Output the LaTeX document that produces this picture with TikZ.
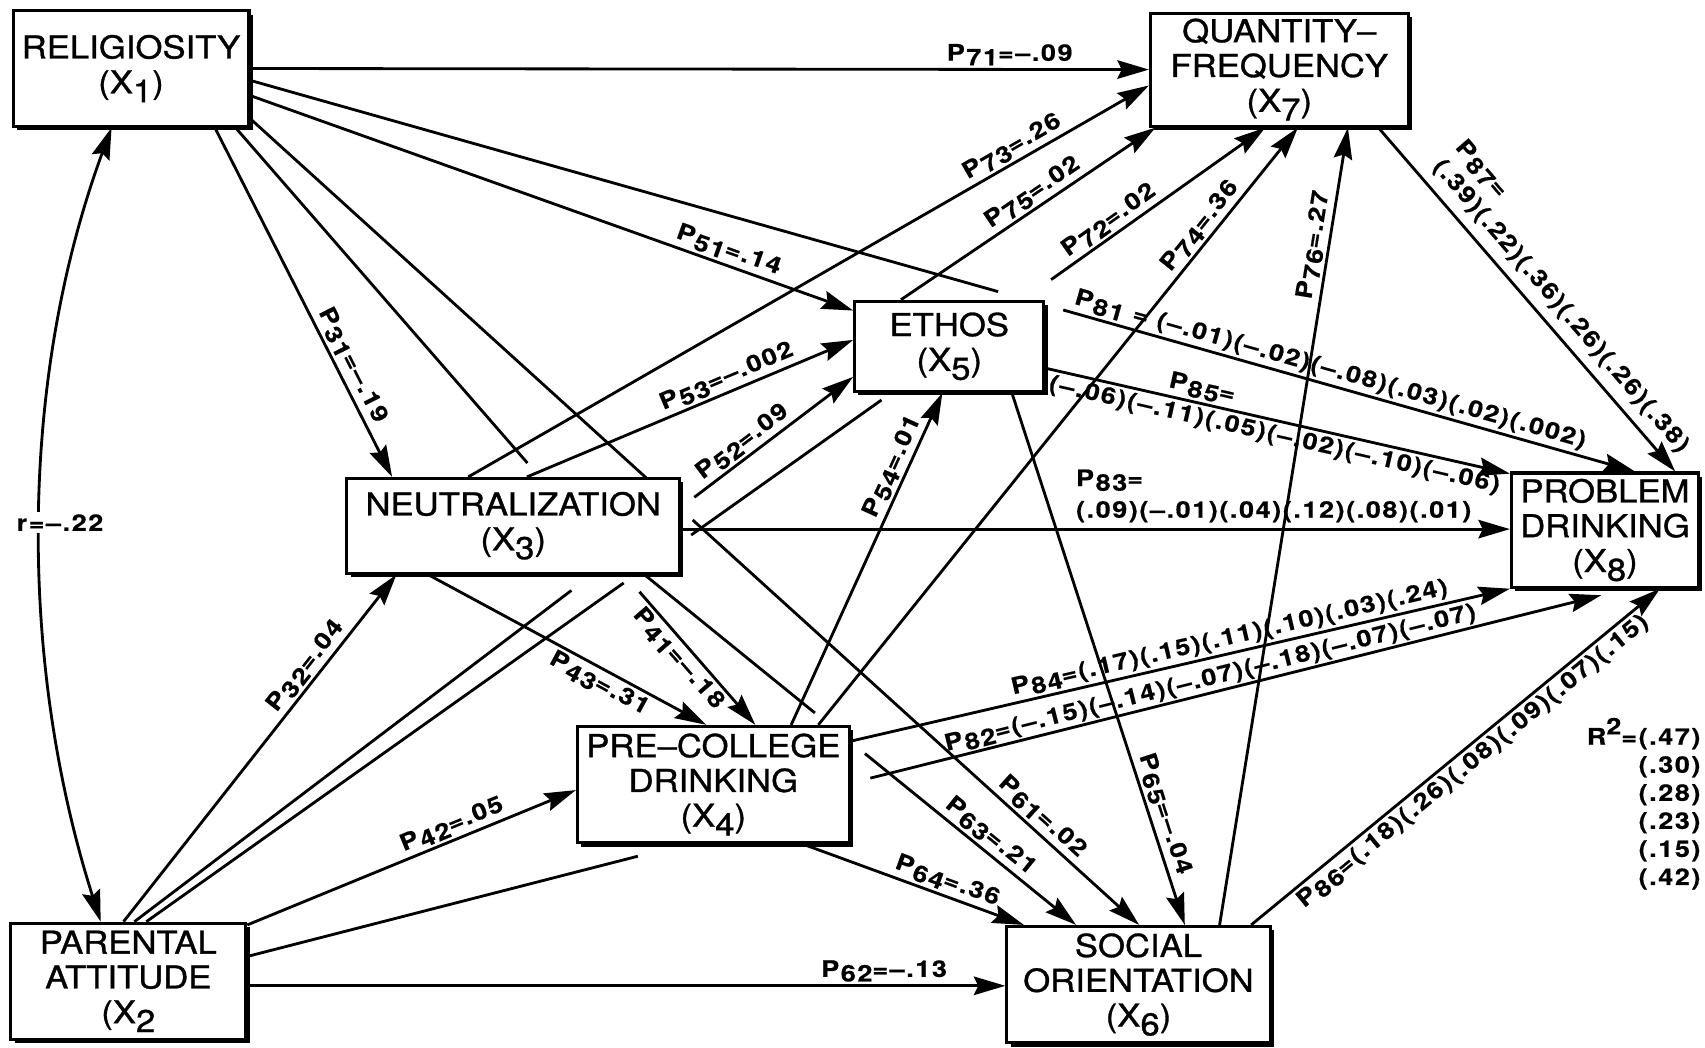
\documentclass[tikz,border=0pt]{standalone}
\usepackage{fontspec}
\setmainfont{TeX Gyre Heros}
\newfontfamily\boxfam{TeX Gyre Heros}[FakeStretch=1.1,FakeBold=1]
\newfontfamily\labfam{TeX Gyre Heros}[FakeStretch=1.18,LetterSpace=7,FakeBold=0.6]
\usetikzlibrary{arrows.meta,calc,shadows}
\newcommand\boxfont{\boxfam\fontsize{29}{32}\selectfont}
\newcommand\labfont{\labfam\bfseries\fontsize{21}{27}\selectfont}
\newcommand\Xs[1]{\raisebox{-0.28em}{#1}}
\newcommand\Pc[1]{P\kern1.5pt\raisebox{-0.2em}{#1}}
\newcommand\Mn{\textendash}
\tikzset{
  box/.style={draw, line width=2.8pt, fill=white, align=center, inner sep=0pt, font=\boxfont,
    drop shadow={shadow xshift=3.5pt, shadow yshift=-3.5pt, fill=black, opacity=1}},
  tip/.style={-{Stealth[length=29pt,width=17pt,inset=4pt]}},
  con/.style={line width=2.6pt, tip},
  seg/.style={line width=2.6pt},
  lab/.style={font=\labfont, inner sep=2.5pt, sloped},
  txt/.style={font=\labfont, inner sep=2pt},
}
\begin{document}
\begin{tikzpicture}[x=1pt,y=-1pt]
\fill[white] (0,0) rectangle (1568,963);
\useasboundingbox (0,0) rectangle (1568,963);
% boxes
\node[box, minimum width=217pt, minimum height=106pt] (R) at (120.5,63) {RELIGIOSITY\\(X\Xs{1})};
\node[box, minimum width=237pt, minimum height=104pt] (Q) at (1176.5,64) {QUANTITY\textendash\\FREQUENCY\\(X\Xs{7})};
\node[box, minimum width=174pt, minimum height=83pt] (E) at (873,318.5) {ETHOS\\(X\Xs{5})};
\node[box, minimum width=306pt, minimum height=87pt] (N) at (472,483.5) {NEUTRALIZATION\\(X\Xs{3})};
\node[box, minimum width=172pt, minimum height=105pt] (PD) at (1476,487.5) {PROBLEM\\DRINKING\\(X\Xs{8})};
\node[box, minimum width=250pt, minimum height=107pt] (C) at (656,721.5) {PRE\textendash COLLEGE\\DRINKING\\(X\Xs{4})};
\node[box, minimum width=216pt, minimum height=107pt] (A) at (118,902.5) {PARENTAL\\ATTITUDE\\(X\Xs{2}};
\node[box, minimum width=242pt, minimum height=107pt] (S) at (1047,905.5) {SOCIAL\\ORIENTATION\\(X\Xs{6})};
% end points on R
\coordinate (r81) at ([shift={(0,11)}]R.east);
\coordinate (r51) at ([shift={(0,25)}]R.east);
\coordinate (r61) at ([shift={(0,-8)}]R.south east);
\coordinate (r31) at ([shift={(187,0)}]R.south west);
\coordinate (r41) at ([shift={(206,0)}]R.south west);
\coordinate (rA) at ([shift={(92,0)}]R.south west);
% Q
\coordinate (q73) at ([shift={(0,68)}]Q.north west);
\coordinate (q75) at ([shift={(6,0)}]Q.south west);
\coordinate (q72) at ([shift={(107,0)}]Q.south west);
\coordinate (q74) at ([shift={(137,0)}]Q.south west);
\coordinate (q76) at ([shift={(183,0)}]Q.south west);
\coordinate (q87) at ([shift={(211,0)}]Q.south west);
% E
\coordinate (e51) at ([shift={(0,10)}]E.north west);
\coordinate (e53) at ([shift={(0,37)}]E.north west);
\coordinate (e52) at ([shift={(0,71)}]E.north west);
\coordinate (e54) at ([shift={(82,0)}]E.south west);
\coordinate (e75) at ([shift={(44,0)}]E.north west);
\coordinate (e85) at ([shift={(0,63)}]E.north east);
\coordinate (e65) at ([shift={(146,0)}]E.south west);
% N
\coordinate (n31) at ([shift={(43,0)}]N.north west);
\coordinate (n73) at ([shift={(113,0)}]N.north west);
\coordinate (n53) at ([shift={(167,0)}]N.north west);
\coordinate (n43) at ([shift={(76,0)}]N.south west);
\coordinate (n63) at ([shift={(275,0)}]N.south west);
\coordinate (n32) at ([shift={(47,0)}]N.south west);
\coordinate (n83) at ([shift={(0,48)}]N.north east);
% PD
\coordinate (d83) at ([shift={(0,53)}]PD.north west);
\coordinate (d85) at ([shift={(0,2)}]PD.north west);
\coordinate (d81) at ([shift={(115,0)}]PD.north west);
\coordinate (d87) at ([shift={(152,0)}]PD.north west);
\coordinate (d84) at (PD.south west);
\coordinate (d82) at ([shift={(84,6)}]PD.south west);
\coordinate (d86) at ([shift={(138,0)}]PD.south west);
% C
\coordinate (c43) at ([shift={(120,0)}]C.north west);
\coordinate (c41) at ([shift={(165,0)}]C.north west);
\coordinate (c54) at ([shift={(198,0)}]C.north west);
\coordinate (c74) at ([shift={(223,0)}]C.north west);
\coordinate (c84) at ([shift={(0,15)}]C.north east);
\coordinate (c64) at ([shift={(209,0)}]C.south west);
\coordinate (c42) at ([shift={(0,60)}]C.north west);
% A
\coordinate (a32) at ([shift={(105,0)}]A.north west);
\coordinate (a52) at ([shift={(115,0)}]A.north west);
\coordinate (a72) at ([shift={(126,0)}]A.north west);
\coordinate (aR) at ([shift={(84,0)}]A.north west);
\coordinate (a42) at ([shift={(0,3)}]A.north east);
\coordinate (a82) at ([shift={(0,32)}]A.north east);
\coordinate (a62) at ([shift={(0,59)}]A.north east);
% S
\coordinate (s62) at ([shift={(0,56)}]S.north west);
\coordinate (s64) at ([shift={(17,0)}]S.north west);
\coordinate (s63) at ([shift={(65,0)}]S.north west);
\coordinate (s61) at ([shift={(123,0)}]S.north west);
\coordinate (s65) at ([shift={(165,0)}]S.north west);
\coordinate (s76) at ([shift={(197,0)}]S.north west);
\coordinate (s86) at ([shift={(226,0)}]S.north west);
% gaps
\coordinate (g81a) at ($(r81)!0.540!(d81)$);
\coordinate (g81b) at ($(r81)!0.587!(d81)$);
\coordinate (g41a) at ($(r41)!0.5616!(c41)$);
\coordinate (g41b) at ($(r41)!0.7772!(c41)$);
\coordinate (g61a) at ($(r61)!0.445!(s61)$);
\coordinate (g61b) at ($(r61)!0.4976!(s61)$);
\coordinate (g52a) at ($(a52)!0.608!(e52)$);
\coordinate (g52b) at ($(a52)!0.779!(e52)$);
\coordinate (g72a) at ($(a72)!0.4266!(q72)$);
\coordinate (g72b) at ($(a72)!0.4869!(q72)$);
\coordinate (g72c) at ($(a72)!0.657!(q72)$);
\coordinate (g72d) at ($(a72)!0.8086!(q72)$);
\coordinate (g63a) at ($(n63)!0.395!(s63)$);
\coordinate (g63b) at ($(n63)!0.511!(s63)$);
\coordinate (g82a) at ([shift={(57,11)}]C.south west);
\coordinate (g82b) at ([shift={(18,49)}]C.north east);
% connectors from R
\draw[con] (R.east) -- (Q.west) node[lab, above, pos=0.845] {\Pc{71}=\Mn.09};
\draw[seg] (r81) -- (g81a);
\draw[con] (g81b) -- (d81) node[lab, above, pos=0.46] {\Pc{81} = (\Mn.01)(\Mn.02)(\Mn.08)(.03)(.02)(.002)};
\draw[con] (r51) -- (e51) node[lab, above, pos=0.785] {\Pc{51}=.14};
\draw[con] (r31) -- (n31) node[lab, above, pos=0.70] {\Pc{31}=\Mn.19};
\draw[seg] (r41) -- (g41a);
\draw[con] (g41b) -- (c41) node[lab, below, pos=0.43] {\Pc{41}=\Mn.18};
\draw[seg] (r61) -- (g61a);
\draw[con] (g61b) -- (s61) node[lab, above, pos=0.76] {\Pc{61}=.02};
\draw[line width=2.6pt, {Stealth[length=29pt,width=17pt,inset=4pt]}-{Stealth[length=29pt,width=17pt,inset=4pt]}]
  (rA) .. controls (17,350) and (17,610) .. (aR) node[txt, pos=0.5, fill=white, xshift=18pt] {r=\Mn.22};
% from A
\draw[con] (a32) -- (n32) node[lab, above, pos=0.71] {\Pc{32}=.04};
\draw[seg] (a52) -- (g52a);
\draw[con] (g52b) -- (e52) node[lab, above, pos=0.36] {\Pc{52}=.09};
\draw[seg] (a72) -- (g72a);
\draw[seg] (g72b) -- (g72c);
\draw[con] (g72d) -- (q72) node[lab, above, pos=0.31] {\Pc{72}=.02};
\draw[con] (a42) -- (c42) node[lab, above, pos=0.64] {\Pc{42}=.05};
\draw[seg] (a82) -- (g82a);
\draw[con] (g82b) -- (d82) node[lab, above, pos=0.47, inner sep=1.5pt] {\Pc{82}=(\Mn.15)(\Mn.14)(\Mn.07)(\Mn.18)(\Mn.07)(\Mn.07)};
\draw[con] (a62) -- (s62) node[lab, above, pos=0.84] {\Pc{62}=\Mn.13};
% from N
\draw[con] (n43) -- (c43) node[lab, below, pos=0.64] {\Pc{43}=.31};
\draw[con] (n53) -- (e53) node[lab, above, pos=0.63] {\Pc{53}=\Mn.002};
\draw[con] (n73) -- (q73) node[lab, above, pos=0.81] {\Pc{73}=.26};
\draw[seg] (n63) -- (g63a);
\draw[con] (g63b) -- (s63) node[lab, above, pos=0.55] {\Pc{63}=.21};
\draw[con] (n83) -- (d83) node[txt, above=3pt, pos=0.715, align=left] {\Pc{83}=\\[2pt](.09)(\Mn.01)(.04)(.12)(.08)(.01)};
% from C
\draw[con] (c54) -- (e54) node[lab, above, pos=0.76] {\Pc{54}=.01};
\draw[con] (c74) -- (q74) node[lab, above, pos=0.82] {\Pc{74}=.36};
\draw[con] (c64) -- (s64) node[lab, above, pos=0.63] {\Pc{64}=.36};
\draw[con] (c84) -- (d84) node[lab, above, pos=0.58] {\Pc{84}=(.17)(.15)(.11)(.10)(.03)(.24)};
% from E
\draw[con] (e65) -- (s65) node[lab, above, pos=0.80] {\Pc{65}=\Mn.04};
\draw[con] (e75) -- (q75) node[lab, above, pos=0.55] {\Pc{75}=.02};
\draw[con] (e85) -- (d85) node[lab, above, pos=0.33] {\Pc{85}=}
  node[lab, below, pos=0.5] {(\Mn.06)(\Mn.11)(.05)(\Mn.02)(\Mn.10)(\Mn.06)};
% from S
\draw[con] (s76) -- (q76) node[lab, above, pos=0.85] {\Pc{76}=.27};
\draw[con] (s86) -- (d86) node[lab, below, pos=0.52] {\Pc{86}=(.18)(.26)(.08)(.09)(.07)(.15)};
% from Q
\draw[con] (q87) -- (d87) node[lab, above=6pt, pos=0.56, align=left] {\Pc{87}=\\(.39)(.22)(.36)(.26)(.26)(.38)};
% R squared
\node[txt, anchor=north east, align=right, font={\labfont\fontsize{21}{25.8}\selectfont}] (r2) at (1566,658)
  {R\raisebox{.45em}{2}=(.47)\\(.30)\\(.28)\\(.23)\\(.15)\\(.42)};
\end{tikzpicture}
\end{document}
